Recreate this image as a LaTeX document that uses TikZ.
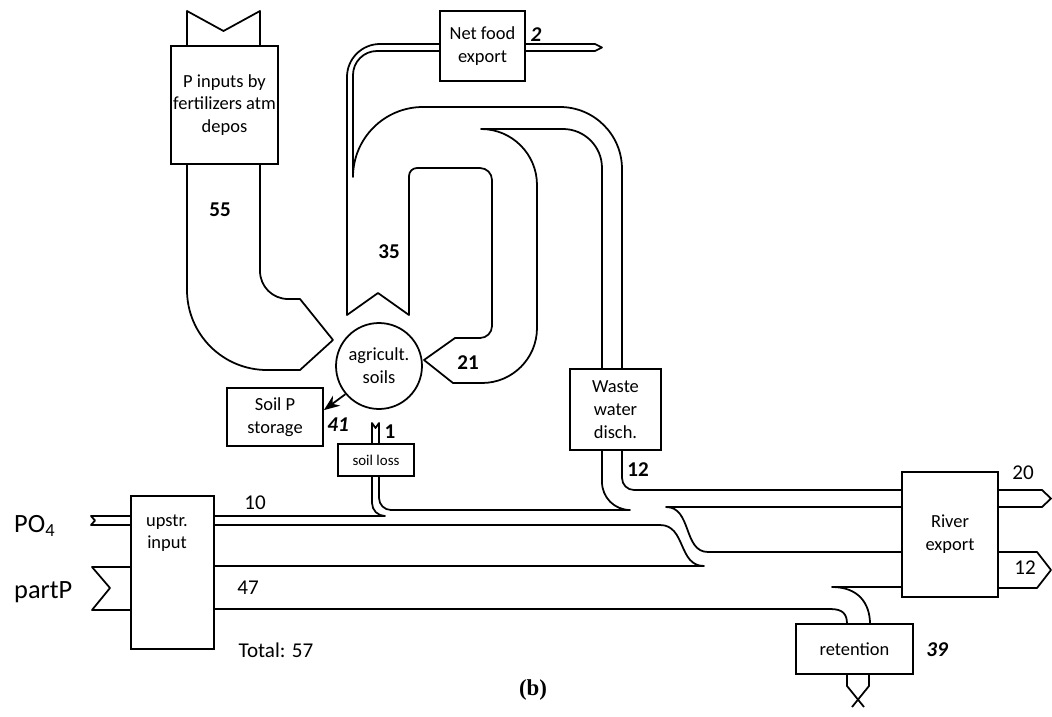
\documentclass[tikz,border=0pt]{standalone}
\usepackage{fontspec}
\setmainfont{Carlito}
\newfontfamily\capfont{Liberation Serif}
\usetikzlibrary{arrows.meta}

\begin{document}
\begin{tikzpicture}[x=0.02cm,y=0.02cm,
  band/.style={line width=1pt,line join=round},
  box/.style={draw,line width=1pt,fill=white,inner sep=0pt,align=center,font=\fontsize{10.5}{13}\selectfont},
  num/.style={font=\fontsize{12}{13}\selectfont\bfseries},
  numit/.style={font=\fontsize{12}{13}\selectfont\bfseries\itshape},
  plain/.style={font=\fontsize{12}{13}\selectfont}]
  \useasboundingbox (0,0) rectangle (1052,-717);

  % fertilizer input
  \draw[band] (187,-46) -- (187,-11) -- (223.5,-31) -- (260,-11) -- (260,-46);
  \draw[band] (187,-164) -- (187,-290) arc[start angle=180,end angle=270,radius=80]
    -- (300,-370) -- (333,-340) -- (300,-299) -- (288,-299)
    arc[start angle=270,end angle=180,radius=28] -- (260,-164);

  % food export and loop back to soils
  \draw[band] (440,-44) -- (380,-44) arc[start angle=90,end angle=180,radius=33]
    -- (347,-315) -- (378,-293) -- (409,-315) -- (409,-176)
    arc[start angle=180,end angle=90,radius=8] -- (480,-168)
    arc[start angle=90,end angle=0,radius=12] -- (492,-326)
    arc[start angle=0,end angle=-90,radius=12] -- (455,-338) -- (424,-360) -- (453,-383) -- (482,-383)
    arc[start angle=-90,end angle=0,radius=55] -- (537,-185)
    arc[start angle=0,end angle=90,radius=56] -- (563,-129)
    arc[start angle=90,end angle=0,radius=39] -- (602,-369);
  \draw[band] (440,-51) -- (377,-51) arc[start angle=90,end angle=180,radius=24]
    -- (353,-177) arc[start angle=180,end angle=90,radius=70]
    -- (560,-107) arc[start angle=90,end angle=0,radius=62] -- (622,-369);
  \draw[band] (525,-44) -- (595,-44) -- (602,-47.5) -- (595,-51) -- (525,-51);

  % soil loss and waste water
  \draw[band] (372,-444) -- (372,-423) -- (375.5,-428) -- (379,-423) -- (379,-444);
  \draw[band] (214,-516) -- (385,-516) arc[start angle=270,end angle=180,radius=13] -- (372,-476);
  \draw[band] (379,-476) -- (379,-498) arc[start angle=180,end angle=270,radius=12] -- (630,-510)
    arc[start angle=270,end angle=180,radius=28] -- (602,-450);
  \draw[band] (622,-450) -- (622,-478) arc[start angle=180,end angle=270,radius=12] -- (902,-490);

  % upstream PO4 and partP
  \draw[band] (131,-516) -- (91,-516) -- (95,-520.5) -- (91,-525) -- (131,-525);
  \draw[band] (131,-567) -- (92,-567) -- (110,-588) -- (92,-610) -- (131,-610);
  \draw[band] (214,-525) -- (660,-525) .. controls (686,-525) and (678,-566) .. (704,-566) -- (214,-566);
  \draw[band] (902,-507) -- (666,-507) .. controls (692,-507) and (683,-552) .. (708,-552) -- (902,-552);
  \draw[band] (214,-609) -- (830,-609) .. controls (843,-609) and (847,-614) .. (847,-624);
  \draw[band] (902,-587) -- (832,-587) .. controls (858,-587) and (870,-603) .. (870,-624);

  % retention and river export
  \draw[band] (847,-674) -- (847,-686) -- (864,-707);
  \draw[band] (869,-674) -- (869,-686) -- (852,-707);
  \draw[band] (998,-490) -- (1042,-490) -- (1051,-498.5) -- (1042,-507) -- (998,-507);
  \draw[band] (998,-552) -- (1037,-552) -- (1051,-570) -- (1037,-588) -- (998,-588);

  % Boxes
  \node[box,minimum width=2.14cm,minimum height=2.36cm] (fert) at (224.5,-105) {P inputs by\\fertilizers atm\\depos};
  \node[box,minimum width=1.70cm,minimum height=1.40cm] (food) at (482.5,-46) {Net food\\export};
  \node[box,circle,minimum size=1.72cm] (soils) at (379,-366) {agricult.\\soils};
  \node[box,minimum width=1.92cm,minimum height=1.16cm] (storage) at (275,-417) {Soil P\\storage};
  \node[box,minimum width=1.52cm,minimum height=0.64cm,font=\fontsize{8.5}{10}\selectfont] (loss) at (376,-460) {soil loss};
  \node[box,minimum width=1.82cm,minimum height=1.62cm] (waste) at (615.5,-409.5) {Waste\\water\\disch.};
  \node[box,minimum width=1.66cm,minimum height=3.06cm] (upstr) at (172.5,-572.5) {};
  \node[font=\fontsize{10.5}{12.5}\selectfont,align=center] (upstrtext) at (167,-533) {upstr.\\input};
  \node[box,minimum width=1.92cm,minimum height=2.50cm] (river) at (950,-534.5) {River\\export};
  \node[box,minimum width=2.34cm,minimum height=1.00cm] (retention) at (854.5,-649) {retention};

  \draw[line width=1pt,-{Stealth[length=9pt,width=7pt]}] (soils.220) -- (storage.8);

  % Labels
  \node[num] (n55) at (220,-210) {55};
  \node[num] (n35) at (389,-252) {35};
  \node[num] (n21) at (468,-363) {21};
  \node[numit] (n2) at (536,-35) {2};
  \node[numit] (n41) at (338,-425) {41};
  \node[num] (n1) at (390,-432) {1};
  \node[num] (n12w) at (638,-470) {12};
  \node[plain] (n10) at (255,-503) {10};
  \node[plain] (n47) at (248,-588) {47};
  \node[plain] (total) at (276,-650) {Total: 57};
  \node[plain] (n20) at (1023,-473) {20};
  \node[plain] (n12r) at (1025,-568) {12};
  \node[numit] (n39) at (937,-650) {39};
  \node[anchor=west,font=\fontsize{15}{17}\selectfont] (po4) at (8,-526) {PO\textsubscript{4}};
  \node[anchor=west,font=\fontsize{15}{17}\selectfont] (partp) at (8,-592) {partP};
  \node[font=\fontsize{13}{15}\selectfont\capfont\bfseries] (caption) at (533,-690) {(b)};
\end{tikzpicture}
\end{document}
